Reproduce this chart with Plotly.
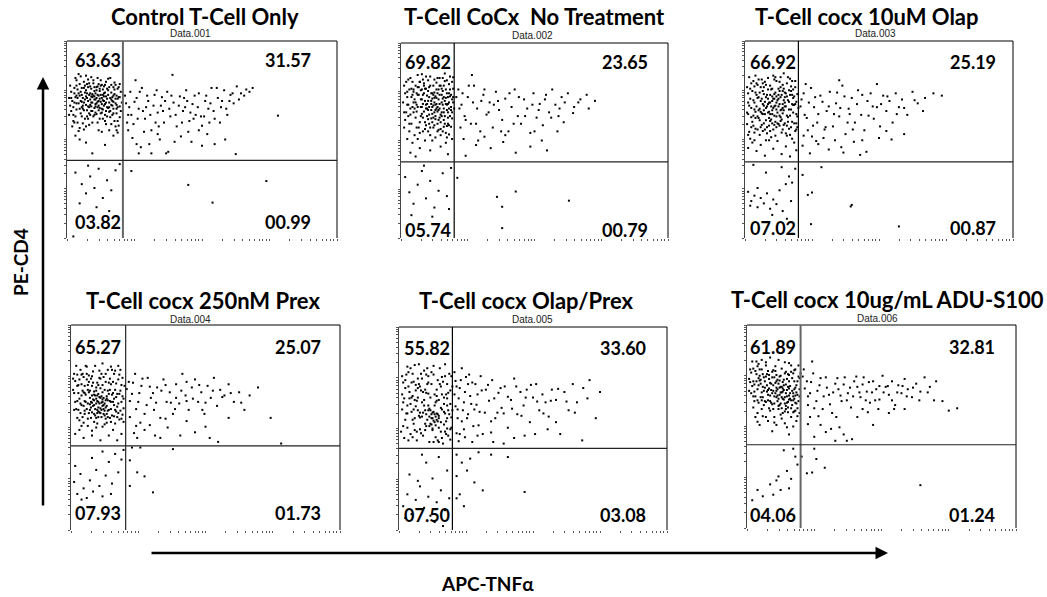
import math
import plotly.graph_objects as go

W, H = 1047, 597

# ---------------- data ----------------
titles = ["Control T-Cell Only", "T-Cell CoCx&nbsp; No Treatment", "T-Cell cocx 10uM Olap",
          "T-Cell cocx 250nM Prex", "T-Cell cocx Olap/Prex", "T-Cell cocx 10ug/mL ADU-S100"]
data_labels = ["Data.001", "Data.002", "Data.003", "Data.004", "Data.005", "Data.006"]
quad_ul = [63.63, 69.82, 66.92, 65.27, 55.82, 61.89]
quad_ur = [31.57, 23.65, 25.19, 25.07, 33.60, 32.81]
quad_ll = [3.82, 5.74, 7.02, 7.93, 7.50, 4.06]
quad_lr = [0.99, 0.79, 0.87, 1.73, 3.08, 1.24]
gate_x = [53, 51, 51, 52, 51, 51]      # channel (0-256) of the vertical gate
gate_y = [101, 100, 99, 105, 103, 105]  # channel (0-256) of the horizontal gate
x_label = "APC-TNFα"
y_label = "PE-CD4"

# events (APC channel, PE channel), 256-channel 4-decade log scale
p1_pts = [
 (4,190),(7,176),(9,198),(12,185),(14,170),(16,203),(18,192),(20,178),(22,188),(24,165),
 (26,196),(28,182),(30,172),(32,205),(34,186),(36,160),(38,194),(40,176),(42,189),(44,168),
 (46,199),(48,181),(50,171),(6,160),(10,150),(13,162),(17,155),(21,147),(25,158),(29,150),
 (33,163),(37,148),(41,157),(45,152),(49,146),(3,172),(8,208),(11,213),(15,182),(19,166),
 (23,209),(27,174),(31,191),(35,178),(39,207),(43,183),(47,162),(51,190),(5,145),(9,167),
 (14,195),(18,173),(22,160),(26,180),(30,200),(34,167),(38,181),(42,199),(46,175),(50,157),
 (2,182),(7,188),(12,200),(16,176),(20,196),(24,183),(28,192),(32,177),(36,189),(40,164),
 (44,196),(48,170),(6,152),(11,139),(15,149),(19,158),(23,171),(27,163),(31,155),(35,197),
 (39,169),(43,160),(47,185),(52,176),(4,165),(8,183),(13,178),(17,189),(21,170),(25,201),
 (29,186),(33,174),(37,184),(41,182),(45,187),(49,196),(10,193),(14,158),(18,211),(22,180),
 (26,169),(30,185),(34,193),(38,158),(42,173),(46,145),(30,178),(27,188),(24,176),(21,186),
 (31,169),(28,161),(33,182),(26,191),(23,184),(29,177),(35,172),(20,206),(16,141),(40,140),
 (12,128),(36,121),(44,133),(24,110),(48,137),(8,133),(33,138),(18,124),
 (5,178),(7,195),(9,185),(11,175),(13,190),(15,168),(17,180),(19,200),(21,162),(23,194),
 (25,185),(27,171),(29,197),(31,181),(33,168),(35,188),(37,176),(39,192),(41,165),(43,178),
 (45,193),(47,173),(49,183),(51,165),(6,170),(8,158),(10,182),(12,168),(14,186),(16,166),
 (18,184),(20,171),(22,197),(24,187),(26,160),(28,175),(30,166),(32,186),(34,179),(36,199),
 (38,170),(40,196),(42,180),(44,162),(46,181),(48,194),(50,183),(3,198),(9,205),(13,210),
 (17,198),(21,201),(25,205),(29,208),(33,199),(37,203),(41,208),(45,202),(19,188),(23,176),
 (27,180),(31,194),(35,184),(39,186),(43,172),(47,168),(11,188),(15,172),(19,182),(22,173),
 (26,184),(29,170),(32,162),(36,174),(40,170),(44,185),(48,152),(7,150),(12,143),(18,145),
 (24,150),(30,140),(36,152),(42,148),(47,140),(20,155),(34,155),(9,175),(16,195),(28,196),
 (37,165),(44,177),(50,200),(4,182),(2,160),(23,165),(32,198),(14,177),
 (56,175),(58,160),(60,190),(63,148),(66,182),(68,168),(71,195),(74,155),(77,178),(80,140),
 (83,186),(86,163),(89,172),(92,150),(95,190),(98,158),(101,176),(104,145),(107,184),(110,165),
 (113,192),(116,152),(119,174),(122,160),(125,188),(128,146),(131,178),(134,168),(137,195),(140,155),
 (143,182),(146,170),(149,192),(152,160),(155,186),(158,175),(161,197),(165,188),(170,193),(176,195),
 (62,130),(70,118),(78,122),(88,128),(96,112),(108,132),(118,125),(128,120),(140,122),(160,109),
 (65,205),(100,212),(120,155),(135,150),(112,170),(90,183),(75,170),(84,150),(130,158),(145,150),
 (57,150),(200,159),(68,110),(94,110),(125,140),
 (55,185),(59,170),(61,160),(64,177),(67,155),(69,190),(72,165),(76,185),(79,160),(82,172),
 (85,192),(87,145),(91,165),(93,178),(97,168),(99,185),(103,160),(106,172),(109,150),(111,182),
 (114,178),(117,163),(121,185),(124,170),(127,158),(132,185),(136,175),(139,165),(142,195),(147,178),
 (151,168),(154,178),(157,188),(163,180),(168,185),(173,190),(58,140),(73,138),(86,135),(102,125),
 (115,138),(133,135),(150,128),(66,122),(80,110),
 (8,85),(14,70),(18,58),(22,80),(26,65),(30,90),(34,52),(38,75),(42,62),(46,88),(50,96),
 (12,45),(28,40),(40,35),(20,94),(6,2),
 (61,87),(115,69),(138,46),(189,74)]

p2_pts = [
 (3,200),(6,185),(9,210),(12,192),(15,175),(18,205),(21,188),(24,170),(27,198),(30,183),
 (33,160),(36,195),(39,178),(42,206),(45,185),(48,168),(50,196),(5,165),(8,150),(11,172),
 (14,158),(17,145),(20,163),(23,152),(26,140),(29,157),(32,148),(35,166),(38,143),(41,155),
 (44,147),(47,160),(2,178),(7,208),(10,196),(13,182),(16,214),(19,194),(22,203),(25,187),
 (28,212),(31,200),(34,184),(37,210),(40,193),(43,176),(46,202),(49,182),(4,155),(9,162),
 (14,200),(19,172),(24,196),(29,168),(34,204),(39,165),(44,190),(49,157),(6,192),(11,205),
 (16,188),(21,176),(26,207),(31,174),(36,182),(41,170),(46,178),(51,170),(3,145),(8,140),
 (13,135),(18,152),(23,180),(28,145),(33,175),(38,152),(43,138),(48,146),(12,165),(17,198),
 (22,166),(27,185),(32,191),(37,170),(42,160),(47,186),(25,160),(30,172),(35,150),(40,183),
 (45,165),(20,182),(15,166),(27,150),(32,165),(37,158),(29,190),(24,175),(34,170),(39,188),
 (44,175),(26,168),(31,158),(36,142),(41,146),(46,136),(21,140),(16,130),(11,125),(6,130),
 (23,128),(33,132),(43,125),(49,130),(18,118),(38,120),(28,115),(9,112),(45,110),(14,107),
 (35,210),(50,211),(42,216),(20,215),(30,128),
 (4,190),(7,175),(10,185),(13,170),(16,198),(19,182),(22,190),(25,176),(28,200),(31,188),
 (34,176),(37,200),(40,175),(43,195),(46,170),(49,205),(5,205),(8,195),(11,188),(14,178),
 (17,188),(20,172),(23,196),(26,180),(29,176),(32,184),(35,190),(38,162),(41,185),(44,168),
 (47,195),(50,178),(21,158),(24,148),(27,162),(30,152),(33,168),(36,155),(39,160),(42,150),
 (45,158),(48,172),(22,200),(26,193),(30,190),(34,195),(38,200),(42,180),(46,190),(25,170),
 (29,180),(33,186),(37,176),(41,165),(45,150),(49,165),(6,175),(12,195),(18,205),(24,212),
 (32,208),(40,210),(47,212),(15,190),(19,160),(23,143),(28,135),(35,140),(40,140),(46,148),
 (18,138),(31,145),(38,135),(44,132),(10,150),(15,145),(12,178),(20,195),(27,172),(36,168),
 (43,184),(48,188),(30,163),(33,156),(35,172),(37,188),(39,196),(26,156),(41,200),(44,207),
 (9,170),(3,165),(7,160),(16,172),(21,208),(32,178),(45,176),(50,185),
 (55,195),(58,175),(61,160),(64,185),(67,150),(70,200),(73,170),(76,140),(79,188),(82,162),
 (85,178),(88,145),(91,192),(94,168),(97,155),(100,183),(103,140),(106,172),(109,195),(112,160),
 (115,150),(118,182),(121,170),(124,138),(127,190),(130,158),(133,176),(136,148),(139,188),(142,165),
 (145,195),(148,175),(151,160),(154,185),(157,178),(160,190),(166,172),(172,182),(178,188),(165,164),
 (60,130),(72,122),(86,118),(98,126),(110,112),(124,120),(140,115),(62,108),(80,133),(150,140),
 (68,214),(135,128),(156,152),
 (53,185),(56,170),(59,190),(62,155),(65,200),(69,178),(72,150),(77,180),(80,195),(84,165),
 (89,175),(93,180),(96,140),(104,190),(108,150),(113,185),(119,160),(126,175),(132,168),(138,182),
 (144,158),(152,170),(170,178),(57,145),(74,128),(100,135),(128,140),(186,180),(180,170),
 (4,80),(8,60),(12,45),(16,70),(20,88),(24,52),(28,75),(32,40),(36,62),(40,85),(44,55),(48,92),
 (10,30),(30,28),(46,38),(22,95),
 (54,79),(92,54),(110,61),(97,41),(161,49),(97,13)]

p3_pts = [
 (2,196),(5,181),(8,204),(11,171),(14,189),(17,161),(20,199),(23,176),(26,184),(29,151),
 (32,194),(35,167),(38,183),(41,157),(44,197),(47,173),(50,187),(3,161),(6,144),(9,176),
 (12,141),(15,164),(18,149),(21,186),(24,139),(27,169),(30,158),(33,146),(36,174),(39,136),
 (42,167),(45,151),(48,139),(4,209),(7,191),(10,211),(13,183),(16,206),(19,177),(22,208),
 (25,193),(28,206),(31,179),(34,209),(37,194),(40,184),(43,207),(46,193),(49,161),(2,148),
 (6,169),(10,156),(14,134),(18,187),(22,163),(26,149),(30,176),(34,183),(38,149),(42,142),
 (46,163),(50,144),(5,129),(9,137),(13,156),(17,174),(21,144),(25,171),(29,189),(33,159),
 (37,166),(41,179),(45,174),(49,177),(3,176),(8,159),(12,199),(16,147),(20,169),(24,186),
 (28,159),(32,171),(36,141),(40,159),(44,144),(48,196),(11,186),(15,196),(19,141),(23,156),
 (27,141),(31,149),(35,154),(39,171),(43,186),(47,149),(26,166),(30,144),(34,166),(22,181),
 (18,166),(28,181),(33,174),(24,161),(36,191),(7,124),(15,121),(23,127),(31,126),(39,119),
 (47,124),(11,113),(19,107),(27,116),(35,109),(43,106),(3,117),(49,114),(20,127),(40,133),
 (17,201),(29,209),(37,214),(45,204),(9,197),
 (3,188),(6,201),(9,167),(12,182),(15,178),(18,196),(21,171),(24,198),(27,181),(30,204),
 (33,191),(36,199),(39,188),(42,192),(45,186),(48,174),(51,169),(4,172),(7,151),(10,189),
 (13,166),(16,181),(19,161),(22,193),(25,154),(28,171),(31,163),(34,152),(37,179),(40,146),
 (43,159),(46,182),(49,149),(5,194),(8,179),(11,201),(14,168),(17,191),(20,153),(23,164),
 (26,178),(29,172),(32,148),(35,186),(38,171),(41,151),(44,167),(47,184),(50,158),(2,163),
 (20,183),(22,174),(24,152),(26,161),(28,147),(30,167),(32,181),(34,157),(36,162),(38,176),
 (18,172),(16,162),(14,153),(12,158),(10,142),(8,146),(6,157),(4,138),(24,176),(26,194),
 (28,187),(30,184),(32,186),(34,196),(36,169),(38,189),(40,201),(42,177),(44,191),(46,173),
 (13,206),(19,203),(27,211),(33,203),(41,209),(48,204),(10,164),(15,144),(21,136),(29,133),
 (35,137),(43,134),(49,141),(23,146),(37,147),(3,134),(9,127),(17,139),(25,131),(45,129),
 (54,180),(57,160),(60,140),(63,195),(66,170),(69,150),(72,185),(75,130),(78,165),(81,190),
 (84,145),(87,175),(90,158),(93,198),(96,135),(99,168),(102,182),(105,150),(108,192),(111,160),
 (114,140),(117,178),(120,188),(123,155),(126,170),(129,145),(132,185),(135,165),(138,178),(141,150),
 (144,188),(147,170),(150,180),(155,160),(160,190),(165,175),(172,182),(180,188),(188,185),(170,165),
 (55,120),(62,110),(70,122),(80,115),(92,118),(104,125),(116,112),(128,130),(140,128),(152,135),
 (58,200),(90,205),(126,200),(64,132),(110,108),(98,150),
 (53,171),(56,188),(59,156),(61,176),(65,146),(67,183),(70,161),(74,177),(77,144),(80,171),
 (85,161),(88,189),(91,169),(95,184),(100,161),(103,141),(107,174),(112,186),(118,159),(122,171),
 (130,174),(136,184),(145,161),(152,169),(162,179),(56,133),(68,126),(76,141),(86,127),(94,111),
 (112,127),(135,139),
 (3,60),(6,48),(9,55),(12,40),(15,52),(18,45),(21,58),(24,38),(27,50),(30,44),(33,62),(36,35),
 (39,70),(42,80),(45,72),(48,90),(8,95),(20,85),(35,92),(44,48),(12,65),(26,30),(40,25),(5,42),
 (55,82),(60,56),(64,59),(73,92),(102,43),(101,41),(63,18),(147,15)]

p4_pts = [
 (3,195),(6,180),(9,200),(12,172),(15,188),(18,165),(21,198),(24,178),(27,190),(30,160),
 (33,185),(36,170),(39,200),(42,175),(45,188),(48,160),(51,180),(4,160),(7,150),(10,168),
 (13,145),(16,158),(19,140),(22,162),(25,150),(28,165),(31,145),(34,155),(37,140),(40,160),
 (43,148),(46,138),(50,152),(5,205),(8,188),(11,195),(14,205),(17,185),(20,180),(23,205),
 (26,170),(29,195),(32,175),(35,200),(38,182),(41,195),(44,170),(47,200),(2,175),(6,140),
 (10,130),(14,160),(18,150),(22,145),(26,160),(30,172),(34,145),(38,160),(42,150),(46,170),
 (50,135),(3,150),(9,158),(13,180),(17,172),(21,155),(25,168),(29,150),(33,162),(37,175),
 (41,142),(45,158),(49,190),(12,155),(16,175),(20,168),(24,158),(28,152),(32,158),(36,150),
 (27,158),(23,168),(30,155),(26,148),(35,162),(19,160),(31,165),(24,140),(15,195),(40,185),
 (8,125),(16,130),(24,128),(32,132),(40,125),(48,120),(12,115),(20,118),(28,112),(36,118),
 (44,112),(4,120),(22,135),(38,135),(30,208),(45,205),(10,182),(33,195),(20,192),
 (4,186),(7,171),(10,194),(13,161),(16,181),(19,189),(22,173),(25,184),(28,177),(31,191),
 (34,167),(37,189),(40,171),(43,183),(46,194),(49,167),(5,151),(8,164),(11,141),(14,169),
 (17,146),(20,159),(23,151),(26,141),(29,159),(32,149),(35,141),(38,151),(41,164),(44,141),
 (47,149),(50,164),(18,157),(20,147),(22,156),(24,164),(26,153),(28,146),(30,163),(32,143),
 (34,164),(22,169),(25,161),(27,147),(29,167),(31,156),(33,153),(19,153),(21,163),(23,143),
 (25,146),(27,166),(29,141),(31,151),(33,139),(35,149),(15,151),(13,171),(11,174),(9,146),
 (6,161),(3,171),(37,161),(39,169),(41,156),(43,166),(45,146),(47,174),(49,144),(24,174),
 (26,181),(28,189),(17,193),(21,184),(12,191),(36,184),(42,199),(48,181),(6,194),(15,204),
 (27,199),(38,204),(8,137),(16,139),(25,133),(34,134),(42,133),(48,139),(12,134),(30,129),
 (20,124),(39,143),(44,154),(13,149),(18,174),(30,181),(35,174),(10,156),(7,181),(2,189),
 (55,185),(58,170),(61,195),(64,160),(67,180),(70,145),(73,190),(76,165),(79,150),(82,178),
 (85,140),(88,188),(91,160),(94,172),(97,145),(100,182),(103,158),(106,195),(109,168),(112,150),
 (115,178),(118,188),(121,160),(124,172),(127,145),(130,180),(133,165),(136,190),(139,155),(142,175),
 (146,168),(150,182),(155,160),(160,172),(165,150),(170,168),(178,178),(190,140),(150,140),(62,130),
 (70,125),(80,118),(92,128),(104,118),(118,122),(132,115),(63,115),(85,115),(140,110),(200,108),
 (100,165),(125,150),(110,185),
 (53,176),(56,161),(59,184),(62,151),(65,171),(68,189),(72,156),(75,179),(78,171),(81,159),
 (86,174),(90,181),(95,159),(99,151),(105,174),(110,161),(116,164),(122,181),(128,159),(135,174),
 (144,166),(152,171),(162,159),(56,141),(66,134),(75,131),(90,139),(110,136),(128,129),(60,121),
 (3,60),(6,45),(9,70),(12,52),(15,40),(18,62),(21,48),(24,75),(27,55),(30,42),(33,68),(36,85),
 (39,58),(42,95),(45,72),(48,88),(50,100),(10,38),(20,90),(30,98),(4,80),(38,45),
 (56,87),(63,72),(70,67),(78,47),(56,55),(58,103),(66,103),(97,101)]

p5_pts = [
 (3,194),(6,179),(9,199),(12,186),(15,164),(18,191),(21,176),(24,201),(27,184),(30,167),
 (33,196),(36,177),(39,204),(42,187),(45,171),(48,197),(51,181),(4,161),(7,147),(10,166),
 (13,139),(16,156),(19,144),(22,161),(25,134),(28,151),(31,141),(34,157),(37,146),(40,136),
 (43,149),(46,141),(49,159),(2,124),(5,116),(8,129),(11,121),(14,134),(17,113),(20,127),
 (23,119),(26,131),(29,111),(32,126),(35,117),(38,129),(41,116),(44,124),(47,119),(50,129),
 (6,189),(11,204),(16,183),(21,197),(26,173),(31,184),(36,163),(41,171),(46,157),(51,151),
 (3,171),(8,157),(13,169),(18,151),(23,174),(28,157),(33,149),(38,164),(43,167),(48,146),
 (30,151),(32,141),(34,136),(36,147),(29,143),(35,143),(31,133),(37,137),(40,154),(25,151),
 (20,181),(14,187),(9,181),(44,194),(27,204),(19,209),(47,173),(24,164),(39,184),(12,149),
 (45,137),(6,139),(22,143),(15,126),(33,111),(42,109),(18,167),(49,127),(28,194),(37,113),
 (4,186),(7,196),(10,174),(13,197),(16,176),(19,184),(22,191),(25,177),(28,186),(31,199),
 (34,171),(37,189),(40,181),(43,159),(46,184),(49,176),(5,166),(8,147),(11,159),(14,152),
 (17,163),(20,142),(23,148),(26,146),(29,153),(32,148),(35,161),(38,144),(41,152),(44,147),
 (47,151),(50,142),(30,134),(32,128),(34,146),(36,139),(38,141),(29,131),(31,146),(33,138),
 (35,132),(27,139),(25,126),(21,122),(17,124),(13,117),(9,113),(4,131),(45,121),(49,114),
 (40,124),(43,133),(46,128),(3,152),(12,167),(18,179),(24,157),(28,172),(36,169),(41,193),
 (46,166),(50,194),(8,206),(15,208),(33,207),(44,209),(26,196),(20,148),(15,141),(38,111),
 (53,199),(55,181),(57,166),(59,189),(61,151),(63,174),(65,141),(67,196),(69,159),(71,131),
 (73,184),(75,171),(77,149),(80,121),(83,177),(86,163),(89,189),(92,141),(95,173),(98,154),
 (101,181),(104,129),(107,164),(110,191),(113,146),(116,174),(119,157),(122,177),(125,136),(128,167),
 (131,184),(134,151),(137,171),(140,161),(143,143),(146,177),(150,164),(154,121),(158,174),(162,151),
 (166,184),(170,161),(176,179),(182,189),(188,141),(192,174),(150,136),(130,121),(110,116),(90,111),
 (70,111),(58,121),(62,127),(56,141),(54,156),(66,184),(60,204),(78,194),(100,109),(175,113),
 (120,119),(142,127),
 (53,171),(54,188),(56,152),(58,179),(60,137),(62,161),(64,193),(66,146),(68,169),(70,186),
 (72,152),(74,158),(76,132),(79,176),(82,148),(85,183),(88,137),(91,166),(94,148),(97,179),
 (100,147),(104,168),(108,153),(112,181),(117,144),(121,167),(126,183),(132,162),(138,147),(145,163),
 (152,178),(160,162),(168,148),(180,166),(55,122),(57,112),(63,117),(75,119),(88,123),
 (4,30),(8,45),(12,20),(16,38),(20,55),(24,28),(28,42),(32,65),(36,35),(40,50),(44,25),(48,40),
 (10,70),(26,85),(38,92),(46,75),(6,15),(18,62),(34,10),(42,5),(22,95),(30,18),
 (55,95),(60,85),(65,75),(72,60),(80,50),(58,45),(68,90),(76,98),(88,95),(104,92),(55,68),
 (120,48),(62,30),(55,40)]

p6_pts = [
 (3,200),(6,185),(9,210),(12,192),(15,178),(18,205),(21,188),(24,170),(27,198),(30,182),
 (33,165),(36,195),(39,178),(42,205),(45,185),(48,168),(51,195),(4,170),(7,160),(10,175),
 (13,165),(16,155),(19,172),(22,160),(25,150),(28,165),(31,155),(34,172),(37,150),(40,162),
 (43,155),(46,148),(49,160),(2,188),(5,210),(8,198),(11,180),(14,200),(17,185),(20,198),
 (23,182),(26,190),(29,175),(32,192),(35,180),(38,188),(41,170),(44,195),(47,180),(50,175),
 (6,152),(10,145),(14,150),(18,140),(22,148),(26,140),(30,150),(34,145),(38,158),(42,140),
 (46,158),(50,145),(27,170),(29,160),(31,168),(33,178),(35,162),(25,180),(37,170),(39,152),
 (24,190),(28,185),(32,178),(36,165),(40,185),(20,168),(16,190),(12,200),(44,170),(48,185),
 (21,176),(23,158),(19,180),(15,165),(13,182),(9,185),(7,172),(11,158),(17,160),(45,175),
 (20,135),(28,130),(36,132),(44,128),(12,130),(24,122),(40,118),(8,140),(33,138),(47,135),
 (30,212),(22,215),(40,208),(14,212),(46,200),(49,205),
 (4,196),(7,181),(10,204),(13,187),(16,173),(19,194),(22,183),(25,199),(28,177),(31,191),
 (34,184),(37,197),(40,176),(43,189),(46,177),(49,191),(5,179),(8,166),(11,189),(14,161),
 (17,177),(20,161),(23,174),(26,166),(29,187),(32,171),(35,187),(38,166),(41,179),(44,161),
 (47,171),(50,166),(26,157),(28,173),(30,163),(32,157),(34,176),(36,157),(38,174),(40,167),
 (42,161),(44,166),(46,167),(27,183),(29,167),(31,177),(33,171),(35,174),(37,181),(39,159),
 (41,163),(43,173),(45,163),(47,157),(30,154),(33,151),(36,147),(39,146),(42,151),(45,147),
 (48,151),(24,156),(22,167),(20,174),(18,191),(15,194),(12,186),(9,194),(6,201),(3,184),
 (24,197),(27,204),(33,201),(39,194),(45,199),(50,189),(18,209),(11,207),(36,209),(42,197),
 (10,161),(14,171),(18,159),(21,193),(25,173),(28,193),(31,186),(34,163),(37,154),(40,193),
 (15,141),(26,133),(38,127),(48,141),(10,134),(32,143),(44,146),(21,151),(6,166),(2,173),
 (54,200),(57,185),(60,170),(63,195),(66,160),(69,180),(72,150),(75,190),(78,168),(81,145),
 (84,182),(87,175),(90,160),(93,190),(96,170),(99,152),(102,185),(105,178),(108,165),(111,190),
 (114,172),(117,158),(120,185),(123,175),(126,162),(129,192),(132,178),(135,168),(138,185),(141,155),
 (144,180),(147,170),(150,188),(153,175),(157,165),(161,182),(165,172),(169,190),(174,178),(180,185),
 (186,160),(192,148),(60,140),(70,130),(80,125),(92,118),(105,140),(120,130),(135,145),(150,150),
 (64,115),(84,110),(95,110),(100,112),(58,155),(62,210),(110,150),(125,150),(140,150),(85,140),
 (53,191),(55,176),(58,166),(61,184),(64,151),(67,173),(70,189),(73,166),(76,177),(79,156),
 (82,171),(86,189),(89,167),(92,181),(95,161),(98,177),(101,166),(104,191),(107,171),(110,181),
 (113,161),(116,184),(119,171),(122,161),(126,179),(130,171),(134,179),(138,161),(143,171),(148,179),
 (152,166),(158,177),(164,161),(172,171),(178,161),(58,131),(68,141),(75,121),(88,127),(115,146),
 (200,151),
 (5,35),(10,48),(22,55),(28,60),(32,48),(38,72),(42,62),(46,90),(48,80),(44,100),(35,98),
 (25,42),(40,50),(30,65),(15,40),
 (64,100),(66,87),(57,69),(62,70),(74,76),(165,54),(52,90)]

panels_pts = [p1_pts, p2_pts, p3_pts, p4_pts, p5_pts, p6_pts]

# ---------------- layout geometry (pixels) ----------------
boxes = [(67, 41, 337, 238), (401, 43, 668, 238), (745, 41, 1013, 238),
         (71, 325, 340, 530), (399, 327, 667, 530), (747, 325, 1016, 528)]
title_pos = [(205, 17), (534, 17), (867, 17), (203, 300), (526, 300), (887, 299)]
dlabel_pos = [(190, 33), (533, 35), (875, 33), (190, 319), (533, 319), (877, 318)]
# (ul_left, top_y, ur_right, bottom_y)
qpos = [(73, 60, 313, 222), (403, 62, 650, 230), (748, 62, 998, 228),
        (73, 347, 323, 513), (402, 348, 648, 515), (748, 347, 997, 515)]
vgate_style = [("#666666", 2), ("#000000", 1.2), ("#000000", 1.2),
               ("#333333", 1.3), ("#000000", 1.2), ("#666666", 2)]


def px(x):
    return x / W


def py(y):
    return 1 - y / H


log_ticks = sorted(set([round(64 * (d + math.log10(k)), 2) for d in range(4) for k in range(1, 10)] + [256]))

fig = go.Figure()
annotations = []
shapes = []
FONT = "Lato, Open Sans, sans-serif"

for i, pts in enumerate(panels_pts):
    n = i + 1
    xa = "x" if n == 1 else f"x{n}"
    ya = "y" if n == 1 else f"y{n}"
    xs = [p[0] for p in pts]
    ys = [p[1] for p in pts]
    fig.add_trace(go.Scatter(x=xs, y=ys, mode="markers", xaxis=xa, yaxis=ya,
                             marker=dict(color="black", size=2, symbol="square", line=dict(width=0)),
                             showlegend=False, hoverinfo="skip"))
    l, t, r, b = boxes[i]
    fig.update_layout(**{
        ("xaxis" if n == 1 else f"xaxis{n}"): dict(
            domain=[px(l), px(r)], range=[0, 256], anchor=ya, showgrid=False, zeroline=False,
            showline=False, ticks="outside", ticklen=2, tickwidth=1, tickcolor="#555",
            tickvals=log_ticks, showticklabels=False, fixedrange=True),
        ("yaxis" if n == 1 else f"yaxis{n}"): dict(
            domain=[py(b), py(t)], range=[0, 256], anchor=xa, showgrid=False, zeroline=False,
            showline=True, linecolor="#444", linewidth=1, ticks="outside", ticklen=2,
            tickwidth=1, tickcolor="#555", tickvals=log_ticks, showticklabels=False,
            fixedrange=True),
    })
    shapes.append(dict(type="line", xref="paper", yref="paper", x0=px(l), x1=px(r), y0=py(t), y1=py(t),
                       line=dict(color="black", width=1)))
    shapes.append(dict(type="line", xref="paper", yref="paper", x0=px(r), x1=px(r), y0=py(t), y1=py(b),
                       line=dict(color="black", width=1)))
    vc, vw = vgate_style[i]
    shapes.append(dict(type="line", xref=xa, yref=f"{ya} domain", x0=gate_x[i], x1=gate_x[i], y0=0, y1=1,
                       line=dict(color=vc, width=vw)))
    shapes.append(dict(type="line", xref=f"{xa} domain", yref=ya, x0=0, x1=1, y0=gate_y[i], y1=gate_y[i],
                       line=dict(color="#222", width=1.2)))
    tx, ty = title_pos[i]
    annotations.append(dict(x=px(tx), y=py(ty), xref="paper", yref="paper", text=f"<b>{titles[i]}</b>",
                            showarrow=False, xanchor="center", yanchor="middle",
                            font=dict(family=FONT, size=22, color="black")))
    dx, dy = dlabel_pos[i]
    annotations.append(dict(x=px(dx), y=py(dy), xref="paper", yref="paper", text=data_labels[i],
                            showarrow=False, xanchor="center", yanchor="middle",
                            font=dict(family="Liberation Sans, Arial", size=10, color="#222")))
    ql, qt, qr, qb = qpos[i]
    for val, xx, yy, anc in [(quad_ul[i], ql, qt, "left"), (quad_ur[i], qr, qt, "right"),
                             (quad_ll[i], ql, qb, "left"), (quad_lr[i], qr, qb, "right")]:
        annotations.append(dict(x=px(xx), y=py(yy), xref="paper", yref="paper",
                                text=f"<b>{val:05.2f}</b>", showarrow=False, xanchor=anc,
                                yanchor="middle", font=dict(family=FONT, size=18, color="black")))

annotations.append(dict(x=px(43), y=py(77), xref="paper", yref="paper", text="", showarrow=True,
                        ax=0, ay=430, arrowhead=2, arrowsize=1, arrowwidth=2.5, arrowcolor="black"))
annotations.append(dict(x=px(888), y=py(553), xref="paper", yref="paper", text="", showarrow=True,
                        ax=-738, ay=0, arrowhead=2, arrowsize=1, arrowwidth=2.5, arrowcolor="black"))
annotations.append(dict(x=px(20), y=py(262), xref="paper", yref="paper", text=f"<b>{y_label}</b>",
                        showarrow=False, textangle=-90, xanchor="center", yanchor="middle",
                        font=dict(family=FONT, size=19, color="black")))
annotations.append(dict(x=px(487), y=py(583), xref="paper", yref="paper", text=f"<b>{x_label}</b>",
                        showarrow=False, xanchor="center", yanchor="middle",
                        font=dict(family=FONT, size=19, color="black")))

fig.update_layout(width=W, height=H, margin=dict(l=0, r=0, t=0, b=0),
                  paper_bgcolor="white", plot_bgcolor="white",
                  annotations=annotations, shapes=shapes, showlegend=False)

fig.write_html("out.html", config={"displayModeBar": False})
